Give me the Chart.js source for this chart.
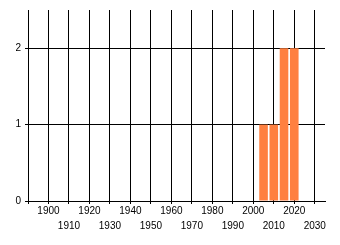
<!DOCTYPE html>
<html>
<head>
<meta charset="utf-8">
<script src="https://cdn.jsdelivr.net/npm/chart.js@4/dist/chart.umd.min.js"></script>
<style>
  html, body { margin: 0; padding: 0; background: #fff; }
  #wrap { width: 340px; height: 245px; position: relative; }
</style>
</head>
<body>
<div id="wrap"><canvas id="chart"></canvas></div>
<script>
// bar data
const years = [2005, 2010, 2015, 2020];
const counts = [1, 1, 2, 2];

// axis ticks
const xMin = 1890;
const xMax = 2035;
const xStep = 10;
const yMin = 0;
const yMax = 2.5;
const yStep = 1;

function xTickLabel(value) {
  if (value < 1900) return "";
  const idx = Math.round((value - 1900) / xStep);
  return idx % 2 === 0 ? [String(value)] : ["", String(value)];
}

const ctx = document.getElementById("chart").getContext("2d");

new Chart(ctx, {
  type: "bar",
  data: {
    datasets: [
      {
        data: years.map((y, i) => ({ x: y, y: counts[i] })),
        backgroundColor: "#ff8040",
        borderWidth: 0,
        categoryPercentage: 1,
        barPercentage: 0.84,
      },
    ],
  },
  options: {
    responsive: true,
    maintainAspectRatio: false,
    animation: false,
    layout: {
      padding: { left: 0, top: 7, right: 15, bottom: 0 },
    },
    plugins: {
      legend: { display: false },
      tooltip: { enabled: false },
    },
    scales: {
      x: {
        type: "linear",
        min: xMin,
        max: xMax,
        offset: false,
        grid: {
          offset: false,
          color: "#000",
          lineWidth: 1,
          tickLength: 3,
          drawTicks: true,
        },
        border: { color: "#000", width: 1 },
        ticks: {
          stepSize: xStep,
          includeBounds: false,
          autoSkip: false,
          maxRotation: 0,
          padding: -1,
          color: "#000",
          font: { family: "Liberation Sans", size: 10, lineHeight: 1.55 },
          callback: function (value) {
            return xTickLabel(value);
          },
        },
        afterFit: function (scale) {
          scale.height = 44;
        },
      },
      y: {
        min: yMin,
        max: yMax,
        grid: {
          color: "#000",
          lineWidth: 1,
          tickLength: 3,
        },
        border: { color: "#000", width: 1 },
        ticks: {
          stepSize: yStep,
          includeBounds: false,
          padding: 4,
          color: "#000",
          font: { family: "Liberation Sans", size: 10 },
        },
        afterFit: function (scale) {
          scale.width = 28;
        },
      },
    },
  },
});
</script>
</body>
</html>
